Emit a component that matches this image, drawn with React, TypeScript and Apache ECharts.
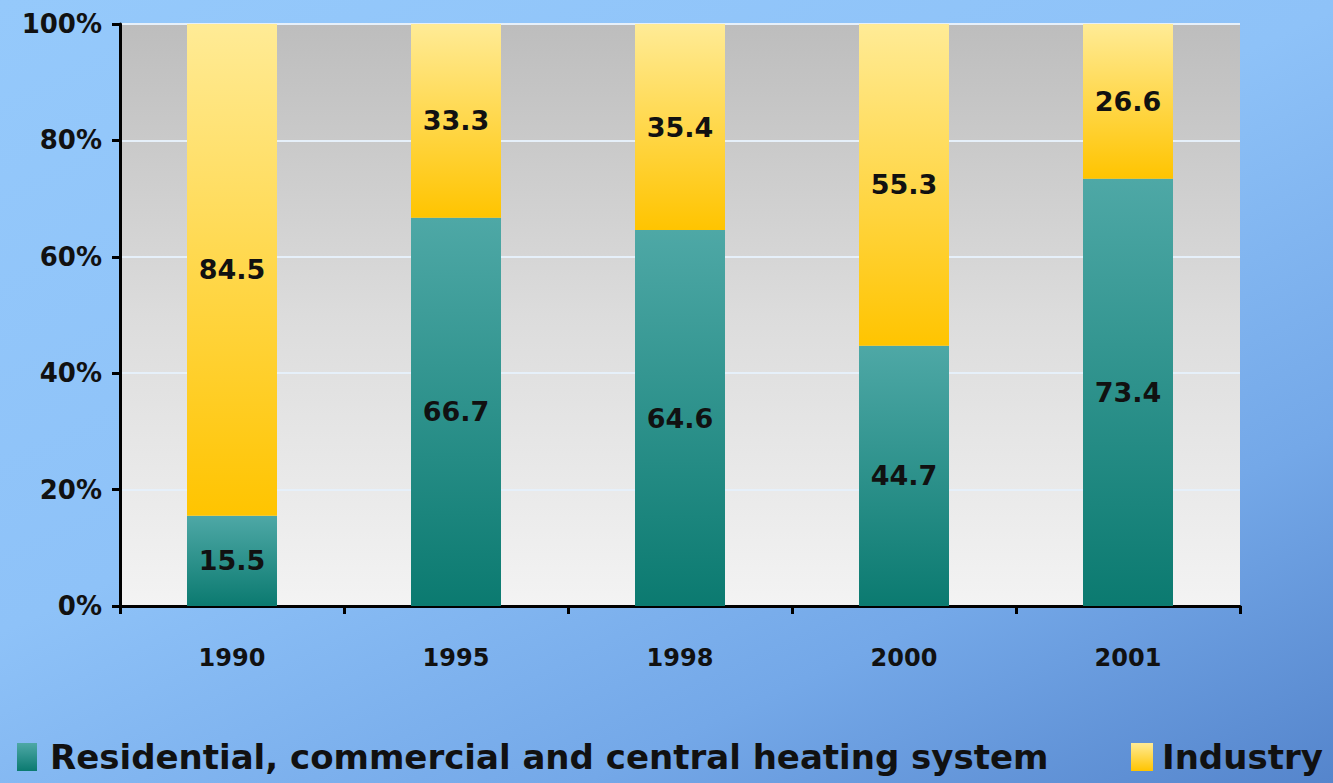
import React, { useEffect, useRef } from "react";
import * as echarts from "echarts";

const categories = ["1990", "1995", "1998", "2000", "2001"];
const residential = [15.5, 66.7, 64.6, 44.7, 73.4];
const industry = [84.5, 33.3, 35.4, 55.3, 26.6];
const yTicks = [0, 20, 40, 60, 80, 100];
const seriesNames = ["Residential, commercial and central heating system", "Industry"];

export default function App() {
  const ref = useRef<HTMLDivElement>(null);
  useEffect(() => {
    if (!ref.current) return;
    const chart = echarts.init(ref.current, null, { renderer: "svg" });
    const font = "'DejaVu Sans', 'Liberation Sans', Arial, sans-serif";
    const teal = new echarts.graphic.LinearGradient(0, 0, 0, 1, [
      { offset: 0, color: "#4ea8a6" },
      { offset: 1, color: "#0b7a70" },
    ]);
    const yellow = new echarts.graphic.LinearGradient(0, 0, 0, 1, [
      { offset: 0, color: "#ffeb96" },
      { offset: 1, color: "#ffc400" },
    ]);
    const labelCfg = {
      show: true,
      position: "inside",
      color: "#111",
      fontSize: 27,
      fontWeight: "bold",
      fontFamily: font,
      formatter: (p: any) => String(p.value),
    };
    const legendText = {
      fontSize: 34,
      fontWeight: "bold",
      color: "#111",
      fontFamily: font,
      padding: [0, 0, 0, 8],
    };
    const legendText2 = { ...legendText, padding: [0, 0, 0, 4] };
    chart.setOption({
      animation: false,
      backgroundColor: "transparent",
      grid: {
        left: 120,
        right: 93,
        top: 24,
        bottom: 177,
        show: true,
        borderWidth: 0,
        backgroundColor: new echarts.graphic.LinearGradient(0, 0, 0, 1, [
          { offset: 0, color: "#bdbdbd" },
          { offset: 0.5, color: "#dcdcdc" },
          { offset: 1, color: "#f3f3f3" },
        ]),
      },
      xAxis: {
        type: "category",
        data: categories,
        axisLine: { lineStyle: { color: "#000", width: 3 } },
        axisTick: { show: true, length: 8, lineStyle: { color: "#000", width: 3 } },
        axisLabel: {
          color: "#111",
          fontSize: 24,
          fontWeight: "bold",
          fontFamily: font,
          margin: 40,
        },
      },
      yAxis: {
        type: "value",
        min: 0,
        max: 100,
        interval: 20,
        axisLine: { show: true, lineStyle: { color: "#000", width: 3 } },
        axisTick: { show: true, length: 8, lineStyle: { color: "#000", width: 3 } },
        axisLabel: {
          color: "#111",
          fontSize: 26,
          fontWeight: "bold",
          fontFamily: font,
          margin: 18,
          formatter: (v: number) => (yTicks.includes(v) ? v + "%" : ""),
        },
        splitLine: { show: true, lineStyle: { color: "#e6f0fa", width: 2 } },
      },
      legend: [
        {
          data: [seriesNames[0]],
          left: 12,
          bottom: 4,
          itemWidth: 20,
          itemHeight: 28,
          icon: "rect",
          textStyle: legendText,
        },
        {
          data: [seriesNames[1]],
          left: 1126,
          bottom: 4,
          itemWidth: 22,
          itemHeight: 28,
          icon: "rect",
          textStyle: legendText2,
        },
      ],
      series: [
        {
          name: seriesNames[0],
          type: "bar",
          stack: "total",
          barWidth: 90,
          data: residential,
          itemStyle: { color: teal },
          label: labelCfg,
        },
        {
          name: seriesNames[1],
          type: "bar",
          stack: "total",
          barWidth: 90,
          data: industry,
          itemStyle: { color: yellow },
          label: labelCfg,
        },
      ],
    });
    return () => chart.dispose();
  }, []);
  return (
    <div
      style={{
        position: "absolute",
        left: 0,
        top: 0,
        width: 1333,
        height: 783,
        background: "linear-gradient(155deg, #95c9fb 0%, #8ec2f8 45%, #74a8e8 75%, #5585cc 100%)",
      }}
    >
      <div ref={ref} style={{ width: 1333, height: 783 }} />
    </div>
  );
}
